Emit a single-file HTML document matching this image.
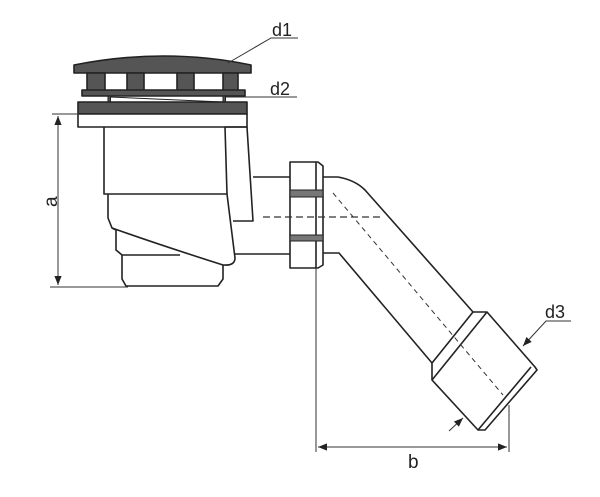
<!DOCTYPE html>
<html><head><meta charset="utf-8"><style>
html,body{margin:0;padding:0;background:#fff;width:600px;height:497px;overflow:hidden}
svg{display:block}
text{font-family:"Liberation Sans",sans-serif;fill:#222}
</style></head><body>
<svg width="600" height="497" viewBox="0 0 600 497" xmlns="http://www.w3.org/2000/svg">
<defs>
<marker id="ar" viewBox="0 0 10 10" refX="10" refY="5" markerWidth="9" markerHeight="9" orient="auto-start-reverse" markerUnits="userSpaceOnUse"><path d="M0,1 L10,5 L0,9 Z" fill="#222"/></marker>
</defs>
<g stroke="#222" stroke-width="1.6" fill="none" stroke-linejoin="round">
<!-- cap -->
<path d="M74,73 L74,65 Q165,47 251,65 L251,73 Z" fill="#555"/>
<rect x="87" y="73" width="18" height="18" fill="#555"/>
<rect x="127" y="73" width="17" height="18" fill="#555"/>
<rect x="177" y="73" width="17" height="18" fill="#555"/>
<rect x="223" y="73" width="15" height="18" fill="#555"/>
<rect x="82" y="90" width="163" height="6" fill="#555"/>
<rect x="108" y="96" width="2.5" height="7" fill="#555" stroke-width="1"/>
<rect x="223" y="96" width="2.5" height="7" fill="#555" stroke-width="1"/>
<line x1="110" y1="97" x2="223" y2="102" stroke-width="1"/>
<rect x="78" y="102" width="169" height="12" fill="#555"/>
<rect x="78" y="114" width="169" height="13" fill="#fff"/>
<!-- body -->
<path d="M104,127 L104,194 L227,194 L225,127"/>
<path d="M225,127 L247,127 L253,221 L233,221"/>
<path d="M108,194 L108,218 L112,228 Q160,245 223,265 Q235,266 235,258 L227,194"/>
<path d="M112,228 L116,230 L116,250 L122,255 L180,255"/>
<path d="M122,255 L122,279 L126,286 L218,286 L223,279 L223,265"/>
<!-- short pipe -->
<line x1="253" y1="177" x2="290" y2="177"/>
<line x1="234" y1="254" x2="290" y2="254"/>
<!-- nut -->
<path d="M290,162 L318,162 L323,166 L323,265 L318,268 L290,268 Z" fill="#fff"/>
<path d="M316,162 L316,268"/>
<rect x="290" y="190" width="33" height="7" fill="#777" stroke-width="1"/>
<rect x="290" y="235" width="33" height="6" fill="#777" stroke-width="1"/>
<!-- elbow pipe -->
<path d="M323,177 L338,177 Q355,180 365,190 L473,312"/>
<path d="M323,253 L339,253 L432,363"/>
<!-- coupling -->
<path d="M432,363 L473,312 L487,312 L535,367 L537,370 L485,430 L478,430 L432,380 Z" fill="#fff"/>
<line x1="432" y1="380" x2="487" y2="312"/>
<line x1="478" y1="430" x2="531" y2="367"/>
</g>
<g stroke="#333" fill="none">
<line x1="263" y1="217" x2="382" y2="217" stroke-width="1.3" stroke-dasharray="7,4"/>
<line x1="333" y1="193" x2="503" y2="395" stroke-width="1" stroke-dasharray="5,4"/>
</g>
<g stroke="#333" stroke-width="1" fill="none">
<!-- dimension a -->
<line x1="52" y1="114" x2="79" y2="114"/>
<line x1="50" y1="287" x2="128" y2="287"/>
<line x1="58" y1="116" x2="58" y2="285" marker-start="url(#ar)" marker-end="url(#ar)"/>
<!-- dimension b -->
<line x1="316" y1="268" x2="316" y2="452"/>
<line x1="509" y1="405" x2="509" y2="452"/>
<line x1="318" y1="447" x2="507" y2="447" marker-start="url(#ar)" marker-end="url(#ar)"/>
<!-- leaders -->
<polyline points="298,38 271,38 228,63"/>
<line x1="226" y1="97" x2="297" y2="97"/>
<polyline points="571,321 546,321 523,346" marker-end="url(#ar)"/>
<line x1="449" y1="431" x2="463" y2="418" marker-end="url(#ar)"/>
</g>
<text x="272" y="36" font-size="18">d1</text>
<text x="270" y="95" font-size="18">d2</text>
<text x="545" y="318" font-size="18">d3</text>
<text x="408" y="468" font-size="19">b</text>
<text x="0" y="0" font-size="19" transform="translate(57,207) rotate(-90)">a</text>
</svg>
</body></html>
